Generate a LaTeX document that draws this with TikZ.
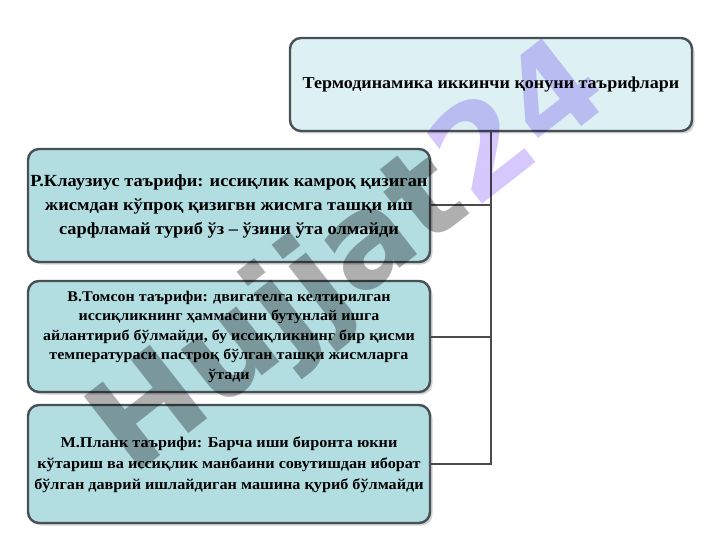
\documentclass[tikz,border=0pt]{standalone}
\usepackage{fontspec}
\setmainfont{Liberation Serif}
\newfontfamily\widefont[FakeStretch=1.08]{Liberation Serif}
\newfontfamily\wmfont{DejaVu Sans}
\usetikzlibrary{shadows}
\definecolor{topfill}{RGB}{221,240,243}
\definecolor{boxfill}{RGB}{178,222,226}
\definecolor{boxline}{RGB}{72,80,85}
\definecolor{linkcol}{RGB}{75,75,75}
\definecolor{wmgrey}{RGB}{175,175,175}
\definecolor{wmpurple}{RGB}{214,200,252}
\newcommand{\boxlines}[2]{\raisebox{#1}{\begin{tabular}{@{}c@{}}#2\end{tabular}}}
\tikzset{
  box/.style={draw=boxline, line width=2.4pt, rounded corners=11pt, fill=boxfill,
    inner sep=0pt,
    drop shadow={shadow xshift=2.5pt, shadow yshift=-2.5pt, fill=black!35}},
  topbox/.style={box, fill=topfill},
  link/.style={draw=linkcol, line width=2pt}
}
\begin{document}
\begin{tikzpicture}[x=1pt,y=-1pt]
\useasboundingbox (0,0) rectangle (720,540);
\node[topbox, minimum width=402, minimum height=93, font=\widefont\bfseries\fontsize{16.7}{20}\selectfont] (t) at (491,84.5)
  {\boxlines{-2.5pt}{Термодинамика иккинчи қонуни таърифлари}};
\node[box, minimum width=402, minimum height=113, font=\widefont\bfseries\fontsize{17}{24}\selectfont] (b1) at (229,205.5)
  {\boxlines{-4pt}{Р.Клаузиус таърифи: иссиқлик камроқ қизиган\\ жисмдан кўпроқ қизигвн жисмга ташқи иш\\ сарфламай туриб ўз – ўзини ўта олмайди}};
\node[box, minimum width=402, minimum height=111, font=\widefont\bfseries\fontsize{14.8}{19.5}\selectfont] (b2) at (229,336.5)
  {\boxlines{-2.5pt}{В.Томсон таърифи: двигателга келтирилган\\ иссиқликнинг ҳаммасини бутунлай ишга\\ айлантириб бўлмайди, бу иссиқликнинг бир қисми\\ температураси пастроқ бўлган ташқи жисмларга\\ ўтади}};
\node[box, minimum width=402, minimum height=118, font=\widefont\bfseries\fontsize{15}{21}\selectfont] (b3) at (229,464)
  {\boxlines{-4pt}{М.Планк таърифи: Барча иши биронта юкни\\ кўтариш ва иссиқлик манбаини совутишдан иборат\\ бўлган даврий ишлайдиган машина қуриб бўлмайди}};
\draw[link] (t.south) |- (b1.east);
\draw[link] (t.south) |- (b2.east);
\draw[link] (t.south) |- (b3.east);
\node[rotate=38, blend mode=multiply, inner sep=0pt, font=\wmfont\bfseries\fontsize{128}{128}\selectfont] (wm) at (352,262)
  {\textcolor{wmgrey}{Hujjat}\textcolor{wmpurple}{24}};
\end{tikzpicture}
\end{document}
